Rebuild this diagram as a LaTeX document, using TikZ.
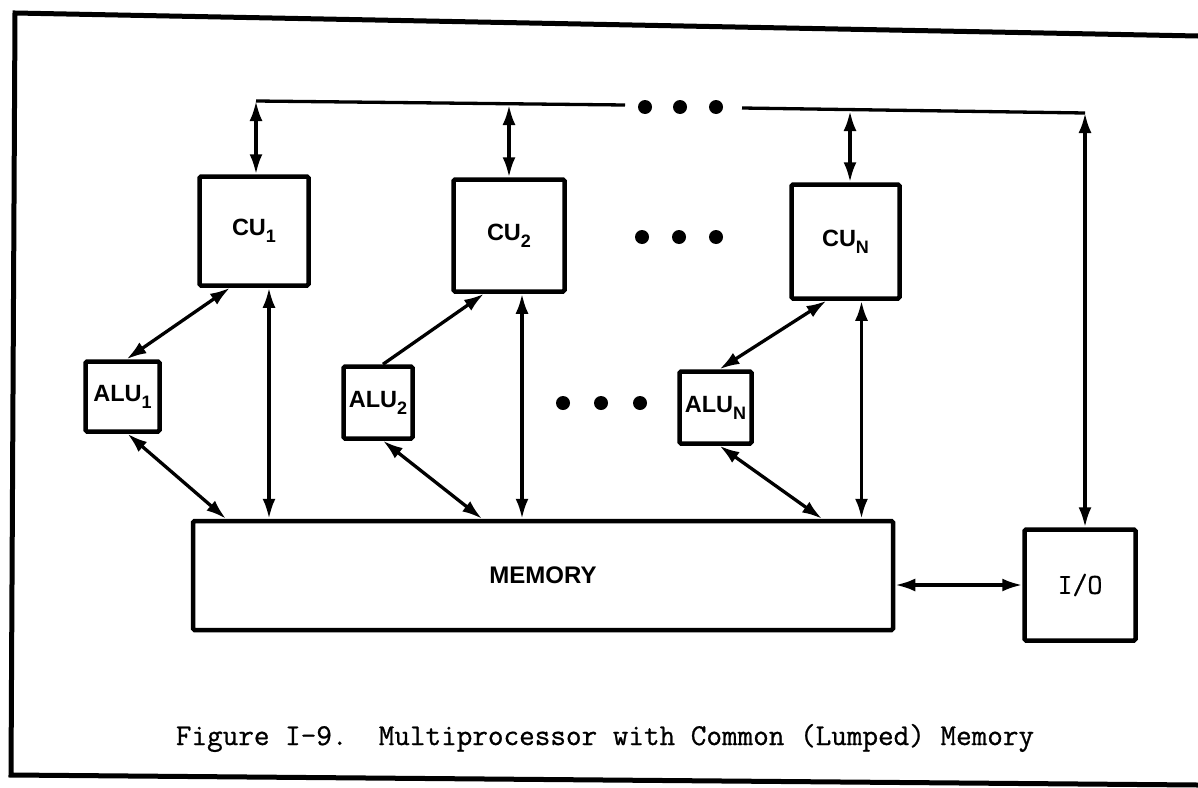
\documentclass[tikz,border=0pt]{standalone}
\usepackage{fontspec}
\setsansfont{Liberation Sans}
\newfontfamily\typefont[FakeBold=0.8]{Latin Modern Mono}
\usetikzlibrary{arrows.meta,calc}
\newcommand{\lsub}[1]{\raisebox{-7pt}{\fontsize{18}{18}\selectfont #1}}
\tikzset{
  box/.style={draw, line width=4.5pt, rounded corners=1.5pt, inner sep=0pt,
    font=\fontsize{23.5}{23.5}\selectfont\sffamily\bfseries},
  link/.style={line width=3.3pt},
  tip/.tip={Latex[length=20pt,width=13pt]},
  dbl/.style={link, tip-tip},
  one/.style={link, -tip},
  dot/.style={circle, fill, inner sep=0pt, minimum size=14pt},
  frame/.style={line width=5pt},
  captionfont/.style={font=\fontsize{30.3}{30.3}\selectfont\typefont\frenchspacing}
}
\begin{document}
\begin{tikzpicture}[x=1pt,y=-1pt]
\useasboundingbox (0,0) rectangle (1198,787);
% outer frame
\draw[frame] (1198,36) -- (15,13) -- (11,775) -- (1198,785);

% boxes
\node[box, minimum width=109pt, minimum height=109pt] (cu1) at (254,231) {CU\lsub{1}};
\node[box, minimum width=111pt, minimum height=112pt] (cu2) at (509,235.5) {CU\lsub{2}};
\node[box, minimum width=108pt, minimum height=114pt] (cun) at (845.5,241.5) {CU\lsub{N}};
\node[box, minimum width=74pt, minimum height=70pt] (alu1) at (122.5,396.5) {ALU\lsub{1}};
\node[box, minimum width=69pt, minimum height=72pt] (alu2) at (378,402.5) {ALU\lsub{2}};
\node[box, minimum width=72pt, minimum height=72pt] (alun) at (715.5,407.5) {ALU\lsub{N}};
\node[box, minimum width=700pt, minimum height=109pt, font=\fontsize{24}{24}\selectfont\sffamily\bfseries] (mem) at (543,575.5) {MEMORY};
\node[box, minimum width=111pt, minimum height=111pt, font=\fontsize{29}{29}\selectfont\typefont] (io) at (1080,585) {I/O};

% bus
\coordinate (t1) at (256,101);
\coordinate (t2) at (509,105);
\coordinate (tn) at (850,111);
\coordinate (tio) at (1085,113);
\coordinate (bx1) at (625,105);
\coordinate (bx2) at (742,108);
\draw[link] (t1) -- (bx1);
\draw[link] (bx2) -- (tio);
\node[dot] (bd1) at (645,107) {};
\node[dot] (bd2) at (680,107) {};
\node[dot] (bd3) at (716,107) {};
\node[dot] (cd1) at (642,237) {};
\node[dot] (cd2) at (679,237) {};
\node[dot] (cd3) at (716,237) {};
\node[dot] (ad1) at (563,403) {};
\node[dot] (ad2) at (601,403) {};
\node[dot] (ad3) at (640,403) {};

% bus to CUs and I/O
\draw[dbl] (t1) -- (t1 |- cu1.north);
\draw[dbl] (t2) -- (t2 |- cu2.north);
\draw[dbl] (tn) -- (tn |- cun.north);
\draw[dbl] (tio) -- (tio |- io.north);

% CU1 group
\draw[dbl] ($(cu1.south)+(-24,0)$) -- ($(alu1.north)+(4,0)$);
\draw[dbl] ($(cu1.south)+(15,0)$) -- (mem.north -| {$(cu1.south)+(15,0)$});
\draw[dbl] ($(alu1.south)+(5,0)$) -- ($(mem.north)+(-317,0)$);

% CU2 group
\draw[one] ($(alu2.north)+(5,0)$) -- ($(cu2.south)+(-25,0)$);
\draw[dbl] ($(cu2.south)+(13,0)$) -- (mem.north -| {$(cu2.south)+(13,0)$});
\draw[dbl] ($(alu2.south)+(5,0)$) -- ($(mem.north)+(-61,0)$);

% CUN group
\draw[dbl] ($(cun.south)+(-19,0)$) -- ($(alun.north)+(4,0)$);
\draw[dbl] ($(cun.south)+(16,0)$) -- (mem.north -| {$(cun.south)+(16,0)$});
\draw[dbl] ($(alun.south)+(4,0)$) -- ($(mem.north)+(279,0)$);

% memory to I/O
\draw[dbl] (io.west -| mem.east) -- (io.west);

% caption
\node[captionfont, anchor=base] (cap) at (605,745) {Figure I-9.~~Multiprocessor with Common (Lumped) Memory};
\end{tikzpicture}
\end{document}
